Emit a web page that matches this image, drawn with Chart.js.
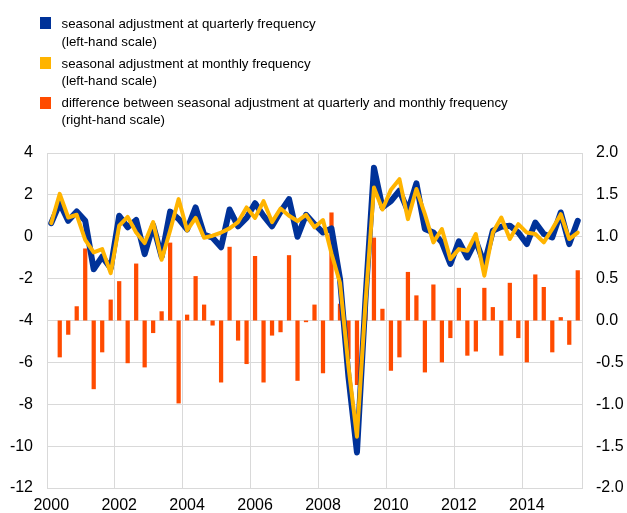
<!DOCTYPE html>
<html lang="en">
<head>
    <meta charset="UTF-8">
    <title>Seasonal adjustment comparison</title>
    <script src="https://cdn.jsdelivr.net/npm/chart.js"></script>
    <style>
        body {
            margin: 0;
            background: white;
            font-family: "Liberation Sans", Arial, sans-serif;
        }
        .wrap {
            position: relative;
            width: 627px;
            height: 513px;
        }
        .legend-item {
            position: absolute;
            left: 61.5px;
            font-size: 13.3px;
            line-height: 17.3px;
            color: #000;
            white-space: nowrap;
        }
        .swatch {
            position: absolute;
            left: 39.5px;
            width: 11.5px;
            height: 12px;
        }
    </style>
</head>
<body>
<div class="wrap">
    <canvas id="myChart" width="627" height="513"></canvas>
    <div class="swatch" style="top:17.3px;background:#003299"></div>
    <div class="legend-item" style="top:15.4px">seasonal adjustment at quarterly frequency<br>(left-hand scale)</div>
    <div class="swatch" style="top:57.3px;background:#ffb400"></div>
    <div class="legend-item" style="top:55px">seasonal adjustment at monthly frequency<br>(left-hand scale)</div>
    <div class="swatch" style="top:96.7px;background:#ff4b00"></div>
    <div class="legend-item" style="top:94px">difference between seasonal adjustment at quarterly and monthly frequency<br>(right-hand scale)</div>
</div>

<script>
    // quarters 2000Q1 - 2015Q3
    const quarters = [
        '2000Q1','2000Q2','2000Q3','2000Q4','2001Q1','2001Q2','2001Q3','2001Q4',
        '2002Q1','2002Q2','2002Q3','2002Q4','2003Q1','2003Q2','2003Q3','2003Q4',
        '2004Q1','2004Q2','2004Q3','2004Q4','2005Q1','2005Q2','2005Q3','2005Q4',
        '2006Q1','2006Q2','2006Q3','2006Q4','2007Q1','2007Q2','2007Q3','2007Q4',
        '2008Q1','2008Q2','2008Q3','2008Q4','2009Q1','2009Q2','2009Q3','2009Q4',
        '2010Q1','2010Q2','2010Q3','2010Q4','2011Q1','2011Q2','2011Q3','2011Q4',
        '2012Q1','2012Q2','2012Q3','2012Q4','2013Q1','2013Q2','2013Q3','2013Q4',
        '2014Q1','2014Q2','2014Q3','2014Q4','2015Q1','2015Q2','2015Q3'
    ];
    const yearLabels = ['2000','2002','2004','2006','2008','2010','2012','2014'];

    // left-hand scale
    const quarterlySA = [
        0.65, 1.6, 0.76, 1.21, 0.76, -1.55, -0.95, -1.5,
        1.0, 0.45, 0.8, -0.83, 0.55, -0.95, 1.2, 0.85,
        0.35, 1.4, 0.1, -0.05, -0.5, 1.3, 0.5, 0.9,
        1.6, 1.0, 0.5, 1.2, 1.8, 0.0, 1.05, 0.6,
        0.2, 0.4, -2.0, -6.7, -10.3, -3.0, 3.3, 1.4,
        1.7, 2.2, 1.24, 2.55, 0.37, 0.2, -0.27, -1.3,
        -0.22, -0.99, -0.19, -1.3, 0.29, 0.48, 0.53, 0.2,
        -0.35, 0.68, 0.13, -0.03, 1.16, -0.35, 0.76
    ];
    const monthlySA = [
        0.65, 2.05, 0.92, 1.05, -0.15, -0.75, -0.59, -1.74,
        0.53, 0.95, 0.2, -0.3, 0.7, -1.1, 0.3, 1.8,
        0.3, 0.9, -0.05, 0.05, 0.2, 0.4, 0.7, 1.4,
        0.9, 1.7, 0.7, 1.35, 1.0, 0.75, 1.05, 0.45,
        0.8, -0.8, -2.2, -6.2, -9.55, -3.2, 2.35, 1.3,
        2.25, 2.75, 0.84, 2.28, 1.08, -0.27, 0.37, -1.07,
        -0.59, -0.67, 0.13, -1.86, 0.2, 0.92, -0.11, 0.6,
        0.2, 0.13, -0.27, 0.37, 1.08, -0.11, 0.2
    ];
    // right-hand scale
    const difference = [
        null, -0.44, -0.17, 0.17, 0.86, -0.82, -0.38, 0.25,
        0.47, -0.51, 0.68, -0.56, -0.15, 0.11, 0.93, -0.99,
        0.07, 0.53, 0.19, -0.06, -0.74, 0.88, -0.24, -0.52,
        0.77, -0.74, -0.18, -0.14, 0.78, -0.72, -0.02, 0.19,
        -0.63, 1.29, 0.2, -0.46, -0.77, 0.21, 0.99, 0.14,
        -0.6, -0.44, 0.58, 0.3, -0.62, 0.43, -0.5, -0.21,
        0.39, -0.42, -0.37, 0.39, 0.16, -0.42, 0.45, -0.21,
        -0.5, 0.55, 0.4, -0.38, 0.04, -0.29, 0.6
    ];

    const gridColor = '#d9d9d9';
    Chart.defaults.font.family = '"Liberation Sans", Arial, sans-serif';
    Chart.defaults.font.size = 16;
    Chart.defaults.color = '#000';

    const config = {
        type: 'bar',
        data: {
            labels: quarters,
            datasets: [
                {
                    type: 'line',
                    label: 'seasonal adjustment at monthly frequency',
                    data: monthlySA,
                    borderColor: '#ffb400',
                    borderWidth: 4,
                    pointRadius: 0,
                    tension: 0,
                    borderJoinStyle: 'round',
                    borderCapStyle: 'round',
                    yAxisID: 'y',
                    order: 1
                },
                {
                    type: 'line',
                    label: 'seasonal adjustment at quarterly frequency',
                    data: quarterlySA,
                    borderColor: '#003299',
                    borderWidth: 6,
                    pointRadius: 0,
                    tension: 0,
                    borderJoinStyle: 'round',
                    borderCapStyle: 'round',
                    yAxisID: 'y',
                    order: 2
                },
                {
                    label: 'difference between seasonal adjustment at quarterly and monthly frequency',
                    data: difference,
                    backgroundColor: '#ff4b00',
                    barPercentage: 0.5,
                    categoryPercentage: 1,
                    yAxisID: 'y2',
                    order: 3
                }
            ]
        },
        options: {
            responsive: false,
            animation: false,
            devicePixelRatio: 1,
            layout: { padding: { top: 153, left: 0, right: 0, bottom: 0 } },
            plugins: {
                legend: { display: false },
                tooltip: { enabled: false }
            },
            scales: {
                x: {
                    offset: true,
                    grid: {
                        offset: true,
                        drawTicks: false,
                        color: (ctx) => ctx.index % 8 === 0 ? gridColor : 'transparent'
                    },
                    border: { display: false },
                    ticks: {
                        autoSkip: false,
                        maxRotation: 0,
                        padding: 8,
                        callback: (value, index) => index % 8 === 0 ? yearLabels[index / 8] : ''
                    },
                    afterFit: (scale) => { scale.height = 25; }
                },
                y: {
                    position: 'left',
                    min: -12,
                    max: 4,
                    grid: { color: gridColor, drawTicks: false },
                    border: { display: true, color: gridColor },
                    ticks: {
                        stepSize: 2,
                        padding: 14,
                        callback: (v) => String(v)
                    },
                    afterFit: (scale) => { scale.width = 47; }
                },
                y2: {
                    position: 'right',
                    min: -2,
                    max: 2,
                    grid: { display: false, drawTicks: false },
                    border: { display: true, color: gridColor },
                    ticks: {
                        stepSize: 0.5,
                        padding: 14,
                        callback: (v) => v.toFixed(1)
                    },
                    afterFit: (scale) => { scale.width = 45; }
                }
            }
        }
    };

    new Chart(document.getElementById('myChart'), config);
</script>
</body>
</html>
